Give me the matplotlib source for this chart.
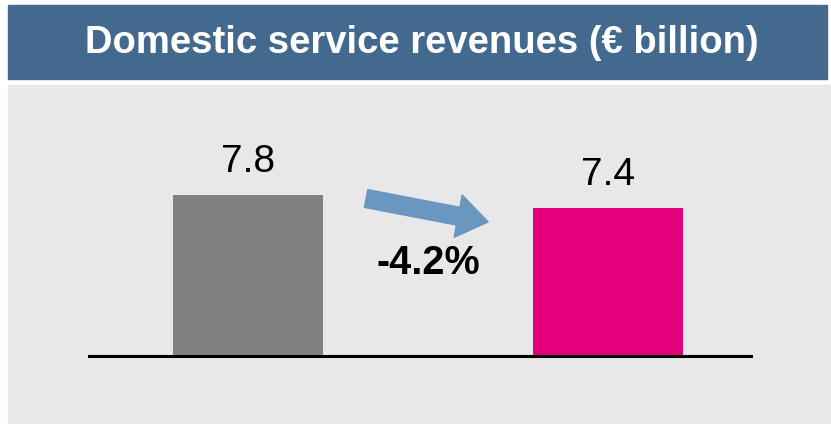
import matplotlib
matplotlib.use("Agg")
import matplotlib.pyplot as plt
from matplotlib.patches import Rectangle

# data
periods = ["prior", "current"]
revenues = [7.8, 7.4]
change_label = "-4.2%"
title = "Domestic service revenues (€ billion)"
bar_colors = ["#808080", "#E2007A"]

fig = plt.figure(figsize=(8.31, 4.24), dpi=100)
fig.patch.set_facecolor("white")

# title banner and grey panel
fig.patches.append(Rectangle((8 / 831, 1 - 79 / 424), 819 / 831, 74 / 424,
                             transform=fig.transFigure, color="#44698F", zorder=-2))
fig.patches.append(Rectangle((8 / 831, 0), 823 / 831, 339 / 424,
                             transform=fig.transFigure, color="#E8E8E8", zorder=-2))
fig.text(0.508, 1 - 53 / 424, title, color="white", ha="center", va="baseline",
         fontsize=27.5, fontweight="bold",
         family=["Liberation Sans", "DejaVu Sans"])

ax = fig.add_axes([89 / 831, 68 / 424, 662 / 831, 256 / 424])
ax.set_zorder(2)
ax.patch.set_alpha(0)
x = list(range(len(revenues)))
bars = ax.bar(x, revenues, width=0.4167, color=bar_colors)
ax.set_xlim(-0.4417, 1.397)
ax.set_ylim(2.846, 10.72)

for s in ["top", "right", "left"]:
    ax.spines[s].set_visible(False)
ax.spines["bottom"].set_linewidth(2.2)
ax.spines["bottom"].set_color("black")
ax.set_xticks([])
ax.set_yticks([])

for xi, v in zip(x, revenues):
    ax.annotate(f"{v:.1f}", (xi, v), xytext=(0, 23), textcoords="offset pixels",
                ha="center", va="baseline", fontsize=28,
                family="Liberation Sans")

# change arrow
ax.annotate("", xy=(0.667, 6.97), xytext=(0.328, 7.69),
            arrowprops=dict(arrowstyle="simple,head_length=22,head_width=31,tail_width=13",
                            mutation_scale=1, color="#6A97BF", shrinkA=0, shrinkB=0))
ax.text(0.5, 5.71, change_label, ha="center", va="center", fontsize=28.5,
        fontweight="bold", family="Liberation Sans")

fig.savefig("out.png", dpi=100)
